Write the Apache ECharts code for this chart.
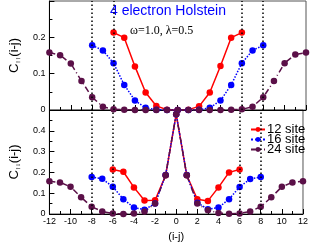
<!DOCTYPE html>
<html><head><meta charset="utf-8">
<script src="https://cdn.jsdelivr.net/npm/echarts@6/dist/echarts.min.js"></script>
<style>html,body{margin:0;padding:0;background:#fff}#c{width:311px;height:243px}</style>
</head><body><div id="c"></div>
<script>
const x12 = [-6,-5,-4,-3,-2,-1,0,1,2,3,4,5,6];
const x16 = [-8,-7,-6,-5,-4,-3,-2,-1,0,1,2,3,4,5,6,7,8];
const x24 = [-12,-11,-10,-9,-8,-7,-6,-5,-4,-3,-2,-1,0,1,2,3,4,5,6,7,8,9,10,11,12];
const top12 = [0.213,0.199,0.120,0.048,0.011,0.001,0,0.001,0.010,0.048,0.121,0.199,0.213];
const top16 = [0.178,0.164,0.129,0.069,0.026,0.006,0.001,0,0,0,0.001,0.006,0.026,0.069,0.129,0.164,0.178];
const top24 = [0.158,0.151,0.128,0.080,0.035,0.009,0.002,0.001,0,0,0,0,0,0,0,0,0,0.001,0.002,0.009,0.035,0.080,0.129,0.153,0.158];
const bot12 = [0.214,0.203,0.128,0.065,0.066,0.186,0.48,0.186,0.071,0.063,0.128,0.200,0.214];
const bot16 = [0.178,0.169,0.131,0.071,0.031,0.021,0.050,0.187,0.48,0.187,0.054,0.023,0.031,0.071,0.130,0.168,0.178];
const bot24 = [0.157,0.152,0.131,0.080,0.035,0.012,0.003,0.000,0.003,0.012,0.051,0.186,0.48,0.186,0.050,0.018,0.005,0.001,0.003,0.012,0.035,0.080,0.131,0.152,0.158];
const vlines = [-8,-6,6,8];
const names = ['12 site','16 site','24 site'];
const colors = ['#ff0000','#0000ff','#5b1048'];
const types = ['solid','dotted',[6,3,1,3]];

const zip = (xs, ys) => xs.map((x,i)=>[x, ys[i]]);
const chart = echarts.init(document.getElementById('c'));
const fontLab = {fontSize:9, color:'#000', fontFamily:'Liberation Sans, Arial'};
function xAx(gi, showLab){
  return {type:'value', gridIndex:gi, min:-12, max:12, interval:2,
    axisLine:{onZero:false, lineStyle:{color:'#000',width:1}},
    axisTick:{inside:true,length:5,lineStyle:{color:'#000'}},
    minorTick:{show:true,splitNumber:2,length:3,lineStyle:{color:'#000'}},
    splitLine:{show:false}, axisLabel:Object.assign({show:showLab, margin:3}, fontLab),
    name: showLab ? '(i-j)' : '', nameLocation:'middle', nameGap:17,
    nameTextStyle:{fontSize:11,color:'#000',fontFamily:'Liberation Sans, Arial'}};
}
function yAx(gi, max, sub){
  return {type:'value', gridIndex:gi, min:0, max:max, interval:0.1,
    axisLine:{onZero:false, lineStyle:{color:'#000',width:1}},
    axisTick:{inside:true,length:5,lineStyle:{color:'#000'}},
    minorTick:{show:true,splitNumber:2,length:3,lineStyle:{color:'#000'}},
    splitLine:{show:false}, axisLabel:Object.assign({showMaxLabel:false, margin:4}, fontLab),
    name:'C{s|'+sub+'}(i-j)', nameLocation:'middle', nameGap:16,
    nameTextStyle:{fontSize:13,color:'#000',fontFamily:'Liberation Sans, Arial',
      rich:{s:{fontSize:7,color:'#000',padding:[8,0,0,0]}}}};
}
const series = [];
const tops = [top12, top16, top24], bots = [bot12, bot16, bot24], xs = [x12, x16, x24];
for (let g=0; g<2; g++){
  for (let k=0; k<3; k++){
    const s = {type:'line', name:names[k], xAxisIndex:g, yAxisIndex:g,
      data: zip(xs[k], (g===0?tops:bots)[k]),
      symbol:'circle', symbolSize:6.5, showSymbol:true,
      itemStyle:{color:colors[k]},
      lineStyle:{color:colors[k], width:1.5, type:types[k]}, z:3};
    if (k===0){
      s.markLine = {silent:true, symbol:'none', label:{show:false},
        lineStyle:{color:'#000', type:[1.5,2.5], width:1.5},
        data: vlines.map(v=>({xAxis:v}))};
    }
    series.push(s);
  }
}
chart.setOption({
  animation:false,
  grid:[{left:27, right:5, top:1, height:109, show:true, borderColor:'#555', borderWidth:1},
        {left:27, right:5, top:110, bottom:23.5, show:true, borderColor:'#555', borderWidth:1}],
  xAxis:[xAx(0,false), xAx(1,true)],
  yAxis:[yAx(0,0.3,'↑↑'), yAx(1,0.5,'↑↓')],
  legend:{orient:'vertical', left:245, top:118, itemWidth:14, itemHeight:6, itemGap:-3,
    data:names, textStyle:{fontSize:13,lineHeight:12,color:'#000',fontFamily:'Liberation Sans, Arial', padding:[0,0,0,-3]}},
  graphic:[
    {type:'text', left:110, top:4, style:{text:'4 electron Holstein', fill:'#0000ff', font:'14px "Liberation Sans", Arial'}},
    {type:'text', left:130, top:25, style:{text:'ω=1.0, λ=0.5', fill:'#000', font:'12px "Liberation Serif", serif'}}
  ],
  series:series
});
</script></body></html>
